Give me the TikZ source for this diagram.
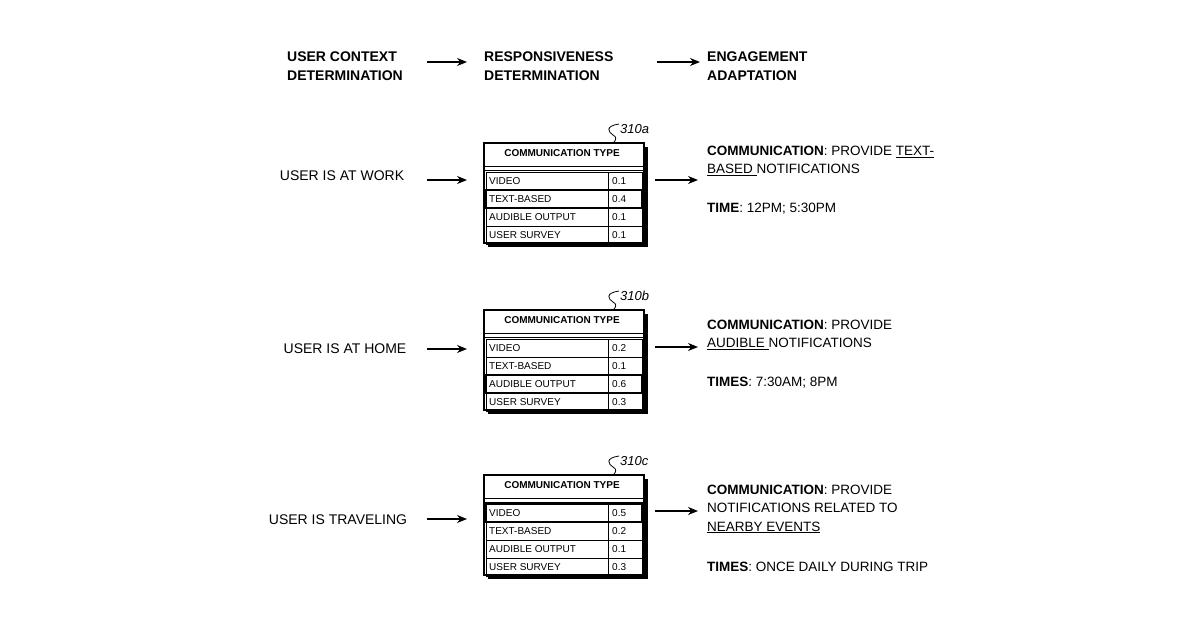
\documentclass[tikz,border=0pt]{standalone}
\usepackage{fontspec}
\setmainfont{Liberation Sans}
\usetikzlibrary{arrows.meta}
\begin{document}
\begin{tikzpicture}[x=1pt,y=-1pt,
 hd/.style={anchor=west,font=\fontsize{14}{19}\selectfont\bfseries,align=left,inner sep=0},
 lbl/.style={font=\fontsize{14}{16}\selectfont,inner sep=0},
 rt/.style={anchor=west,font=\fontsize{13.5}{18.5}\selectfont,align=left,inner sep=0},
 cell/.style={anchor=west,font=\fontsize{10}{12}\selectfont,inner sep=0},
 arr/.style={-{Stealth[length=10pt,width=8pt]},line width=1.3pt},
 ref/.style={font=\fontsize{13}{15}\selectfont\itshape,anchor=west,inner sep=0}]
\useasboundingbox (0,0) rectangle (1200,630);
\node[hd] (h1) at (287,66) {USER CONTEXT\\DETERMINATION};
\node[hd] (h2) at (484,66) {RESPONSIVENESS\\DETERMINATION};
\node[hd] (h3) at (707,66) {ENGAGEMENT\\ADAPTATION};
\draw[arr] (427,62) -- (467,62);
\draw[arr] (657,62) -- (700,62);
\newcommand\commtable[7]{%
 \begin{scope}[yshift=-#1]
 \fill (488,147) rectangle (648,247);
 \fill[white] (484,143) rectangle (644,243);
 \draw[line width=1.1pt] (484,143) rectangle (644,243);
 \node[font=\fontsize{10}{12}\selectfont\bfseries] (hdr#2) at (562,153) {COMMUNICATION TYPE};
 \draw[line width=0.6pt] (484,166) -- (644,166);
 \draw[line width=0.6pt] (484,170) -- (644,170);
 \foreach \yy in {172,190,208,226}{\draw[line width=0.8pt] (486,\yy) rectangle (608,\yy+18); \draw[line width=0.8pt] (608,\yy) rectangle (642,\yy+18);}
 \draw[line width=2.2pt] (486,#7) rectangle (642,#7+18);
 \draw[line width=0.8pt] (608,#7) -- (608,#7+18);
 \node[cell] at (489,181) {VIDEO}; \node[cell] at (612,181) {#3};
 \node[cell] at (489,199) {TEXT-BASED}; \node[cell] at (612,199) {#4};
 \node[cell] at (489,217) {AUDIBLE OUTPUT}; \node[cell] at (612,217) {#5};
 \node[cell] at (489,235) {USER SURVEY}; \node[cell] at (612,235) {#6};
 \node[ref] (r#2) at (620,129) {310#2};
 \draw[line width=0.8pt] (619,124) .. controls (605,126) and (608,132) .. (613,135) .. controls (617,137) and (616,140) .. (614,142);
 \end{scope}}
\commtable{0}{a}{0.1}{0.4}{0.1}{0.1}{190}
\commtable{167}{b}{0.2}{0.1}{0.6}{0.3}{208}
\commtable{332}{c}{0.5}{0.2}{0.1}{0.3}{172}
% row 1
\node[lbl] (u1) at (342,176) {USER IS AT WORK};
\draw[arr] (427,180) -- (467,180);
\draw[arr] (655,180) -- (698,180);
\node[rt] (t1) at (707,161) {\textbf{COMMUNICATION}: PROVIDE \underline{TEXT-}\\\underline{BASED }NOTIFICATIONS};
\node[rt] (m1) at (707,209) {\textbf{TIME}: 12PM; 5:30PM};
% row 2
\node[lbl] (u2) at (345,349) {USER IS AT HOME};
\draw[arr] (427,349) -- (467,349);
\draw[arr] (655,347) -- (698,347);
\node[rt] (t2) at (707,335) {\textbf{COMMUNICATION}: PROVIDE\\\underline{AUDIBLE }NOTIFICATIONS};
\node[rt] (m2) at (707,383) {\textbf{TIMES}: 7:30AM; 8PM};
% row 3
\node[lbl] (u3) at (338,520) {USER IS TRAVELING};
\draw[arr] (427,519) -- (467,519);
\draw[arr] (655,511) -- (698,511);
\node[rt] (t3) at (707,509) {\textbf{COMMUNICATION}: PROVIDE\\NOTIFICATIONS RELATED TO\\\underline{NEARBY EVENTS}};
\node[rt] (m3) at (707,567) {\textbf{TIMES}: ONCE DAILY DURING TRIP};
\end{tikzpicture}
\end{document}
